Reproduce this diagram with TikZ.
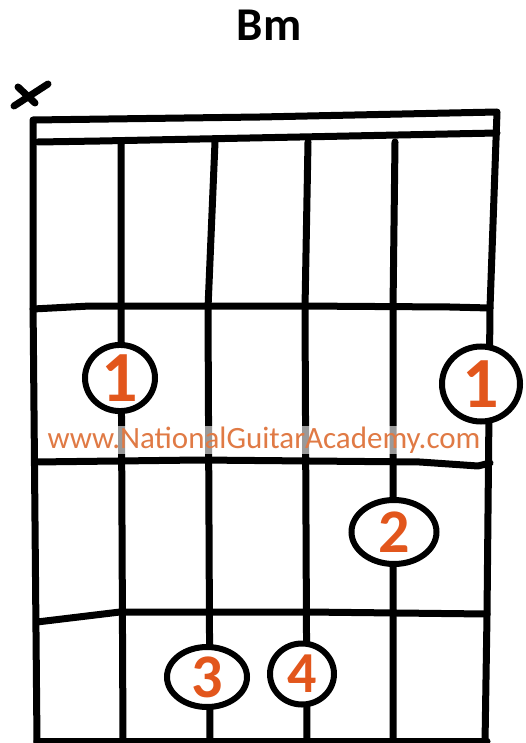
\documentclass[tikz,border=0pt]{standalone}
\usepackage{fontspec}
\setmainfont{Carlito}
\usetikzlibrary{calc,shapes.geometric}
\definecolor{fingerorange}{HTML}{E2561C}
\definecolor{weborange}{HTML}{E07A45}
\begin{document}
\begin{tikzpicture}[x=1pt,y=-1pt,
  ink/.style={line width=7pt,line cap=round,line join=round},
  finger/.style={ellipse,draw,line width=6pt,fill=white,inner sep=0pt,text=fingerorange}]
\useasboundingbox (0,0) rectangle (526,743);
\coordinate (NL) at (33,120); \coordinate (NR) at (497,112); \coordinate (BL) at (37,743); \coordinate (BR) at (485,743);
\draw[ink] (BL)--(33,300)--(NL)--(260,117)--(NR)--(490,308)--(487,615)--(BR);
\draw[ink] (38,142)--(100,141)--(300,137)--(497,133);
\foreach \xa/\xb/\xc in {121/121/123,215/208/210,308/305/307,395/393/393}{\draw[ink] (\xa,142)--(\xb,308)--(\xc,743);}
\draw[ink] (33,309)--(90,306)--(300,306)--(450,307)--(490,308);
\draw[ink] (35,462)--(200,460)--(420,462)--(478,466)--(490,463);
\draw[ink] (37,622)--(120,612)--(307,612)--(487,614);
\draw[ink] (37,741)--(487,741);
\draw[ink] (14,106)--(48,84); \draw[ink] (18,87)--(35,103);
\foreach \n/\p/\w/\h/\s/\t in {fa/{120,378}/70/63/72/1,fb/{481,384}/78/75/72/1,fc/{394,532}/85/64/62/2,fd/{207,677}/80/60/62/3,fe/{302,674}/64/61/58/4}{\node[finger,minimum width=\w pt,minimum height=\h pt,font=\fontsize{\s}{\s}\selectfont\bfseries] (\n) at (\p) {\t};}
\node[fill=white,fill opacity=0.6,text opacity=1,text=weborange,inner sep=1pt,font=\fontsize{31}{31}\selectfont] (web) at (264,440) {www.NationalGuitarAcademy.com};
\node[font=\fontsize{47}{47}\selectfont\bfseries] (title) at (269,25) {Bm};
\end{tikzpicture}
\end{document}
